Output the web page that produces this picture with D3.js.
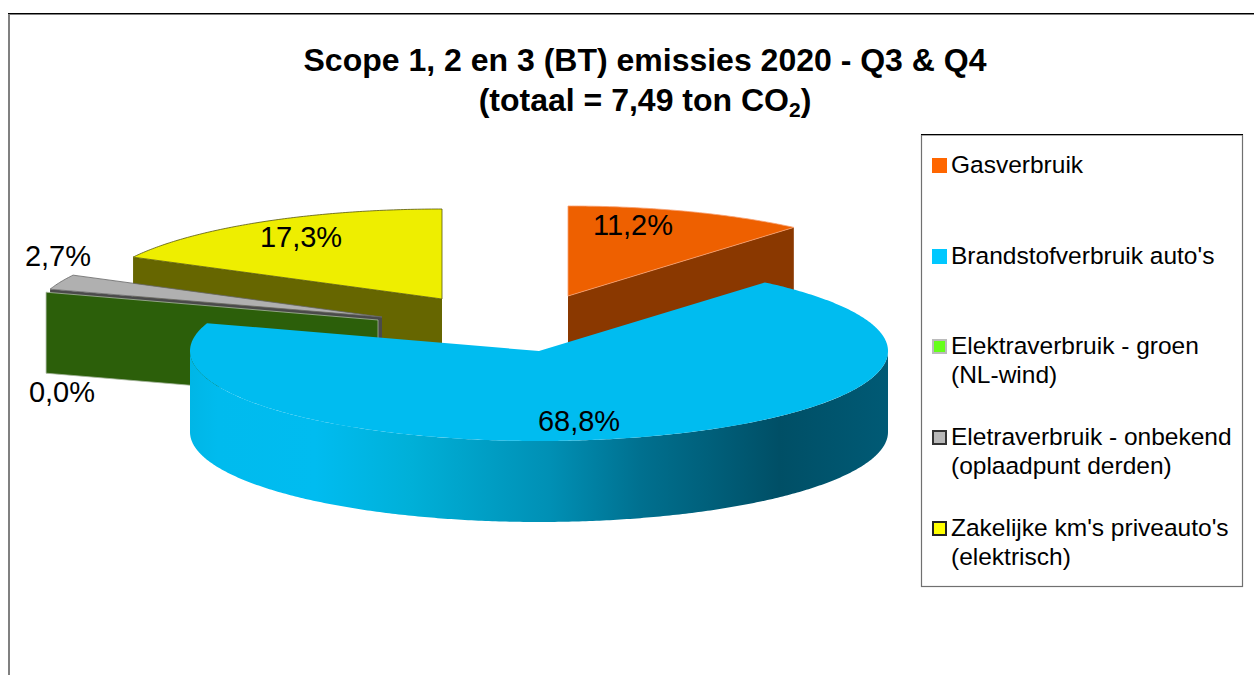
<!DOCTYPE html>
<html>
<head>
<meta charset="utf-8">
<script src="https://cdn.jsdelivr.net/npm/d3@7"></script>
<style>
  html, body { margin: 0; padding: 0; background: #fff; }
  svg { display: block; font-family: "Liberation Sans", Arial, sans-serif; }
</style>
</head>
<body>
<div id="chart"></div>
<script>
// Chart data
const categories = ['Gasverbruik', "Brandstofverbruik auto's", 'Elektraverbruik - groen', 'Eletraverbruik - onbekend', "Zakelijke km's priveauto's"];
const subLabels = ['', '', '(NL-wind)', '(oplaadpunt derden)', '(elektrisch)'];
const shares = [11.2, 68.8, 0.0, 2.7, 17.3];
const valueLabels = ['11,2%', '68,8%', '0,0%', '2,7%', '17,3%'];
const titleLines = ['Scope 1, 2 en 3 (BT) emissies 2020 - Q3 & Q4', '(totaal = 7,49 ton CO'];

// Layout of the exploded pie
const width = 1254, height = 675;
const rx = 349, ry = 90, depth = 81;
const centre = [539, 351];
const explode = [[29, -55], [0, 0], [-161, -31], [-157, -34], [-97, -52]];
const labelPos = [[633, 235], [579, 431], [62, 402], [58, 266], [301, 247]];

const topColors = ['#ee6000', '#00bcf0', '#2c5f0a', '#b0b0b0', '#eeee00'];
const topStroke = ['#f7a070', '#00bcf0', '#a0b090', '#666666', '#55550a'];
const wallColors = ['#8a3800', '#00bcf0', '#2c5f0a', '#4a4a4a', '#666600'];
const swatchFill = ['#ff6600', '#00c8ff', '#66ff1a', '#b8b8b8', '#ffff00'];
const swatchStroke = ['#ff6600', '#00c8ff', '#bbbbbb', '#333333', '#222222'];
const legendY = [173, 264, 354, 445, 536];

const svg = d3.select('#chart').append('svg')
  .attr('width', width)
  .attr('height', height);

const defs = svg.append('defs');
const wallGradient = defs.append('linearGradient')
  .attr('id', 'blueWall')
  .attr('gradientUnits', 'userSpaceOnUse')
  .attr('x1', 190).attr('x2', 887).attr('y1', 0).attr('y2', 0);
[[0, '#00b6e6'], [0.04, '#00bbee'], [0.18, '#00bcf0'], [0.316, '#00b0d8'], [0.515, '#0090b5'], [0.647, '#00708f'], [0.846, '#004f66'], [1, '#005a75']]
  .forEach(function(s) {
    wallGradient.append('stop').attr('offset', s[0]).attr('stop-color', s[1]);
  });

// Chart frame
svg.append('rect').attr('x', 9).attr('y', 14).attr('width', 1300).attr('height', 800)
  .attr('fill', '#fff').attr('stroke', '#808080').attr('stroke-width', 2);
svg.append('line').attr('x1', 8).attr('x2', width).attr('y1', 13.5).attr('y2', 13.5)
  .attr('stroke', '#000').attr('stroke-width', 1.2);

// Title
const title = svg.append('g').attr('font-weight', 'bold').attr('font-size', 32).attr('fill', '#000');
title.append('text').attr('x', 645).attr('y', 71).attr('text-anchor', 'middle').text(titleLines[0]);
const line2 = title.append('text').attr('x', 645).attr('y', 111).attr('text-anchor', 'middle');
line2.append('tspan').text(titleLines[1]);
line2.append('tspan').attr('font-size', 21).attr('dy', 6).text('2');
line2.append('tspan').attr('dy', -6).text(')');

// Pie geometry
const pie = d3.pie().sort(null).value(function(d) { return d; });
const arcs = pie(shares);
const line = d3.line();

function point(c, a, dy) {
  return [c[0] + rx * Math.sin(a), c[1] - ry * Math.cos(a) + (dy || 0)];
}
function rim(c, a0, a1, dy) {
  const n = Math.max(1, Math.ceil((a1 - a0) / 0.01));
  return d3.range(n + 1).map(function(i) {
    return point(c, a0 + (a1 - a0) * i / n, dy);
  });
}
function slicePath(c, a0, a1) {
  return line([c].concat(rim(c, a0, a1))) + 'Z';
}
function sidePath(c, a) {
  const p = point(c, a);
  return line([c, p, [p[0], p[1] + depth], [c[0], c[1] + depth]]) + 'Z';
}
function outerWall(c, a0, a1) {
  const front0 = Math.max(a0, Math.PI / 2), front1 = Math.min(a1, Math.PI * 1.5);
  return line(rim(c, front0, front1).concat(rim(c, front0, front1, depth).reverse())) + 'Z';
}
function sliceCentre(i) {
  return [centre[0] + explode[i][0], centre[1] + explode[i][1]];
}

const pieLayer = svg.append('g');

// Yellow and orange go first, they sit behind the rest
[4, 0].forEach(function(i) {
  const c = sliceCentre(i), d = arcs[i];
  const sideAngle = i === 4 ? d.startAngle : d.endAngle;
  pieLayer.append('path').attr('d', sidePath(c, sideAngle)).attr('fill', wallColors[i]);
  pieLayer.append('path').attr('d', slicePath(c, d.startAngle, d.endAngle))
    .attr('fill', topColors[i]).attr('stroke', topStroke[i]).attr('stroke-width', 0.8);
});

// Grey slice and the empty green slice
const grey = arcs[3], greyC = sliceCentre(3);
pieLayer.append('path').attr('d', sidePath(greyC, grey.startAngle)).attr('fill', wallColors[3]);
pieLayer.append('path').attr('d', slicePath(greyC, grey.startAngle, grey.endAngle))
  .attr('fill', topColors[3]).attr('stroke', topStroke[3]).attr('stroke-width', 0.8);
const green = arcs[2], greenC = sliceCentre(2);
pieLayer.append('path').attr('d', sidePath(greenC, green.startAngle))
  .attr('fill', wallColors[2]).attr('stroke', '#a8b8a0').attr('stroke-width', 0.8);

// Blue slice
const blue = arcs[1], blueC = sliceCentre(1);
pieLayer.append('path').attr('d', outerWall(blueC, blue.startAngle, blue.endAngle))
  .attr('fill', 'url(#blueWall)');
pieLayer.append('path').attr('d', slicePath(blueC, blue.startAngle, blue.endAngle))
  .attr('fill', topColors[1]);

// Value labels
svg.append('g').selectAll('text')
  .data(valueLabels)
  .join('text')
  .attr('x', function(d, i) { return labelPos[i][0]; })
  .attr('y', function(d, i) { return labelPos[i][1]; })
  .attr('text-anchor', 'middle')
  .attr('font-size', 29)
  .attr('fill', '#000')
  .text(function(d) { return d; });

// Legend
svg.append('rect').attr('x', 921.5).attr('y', 135).attr('width', 321).attr('height', 451.5)
  .attr('fill', '#fff').attr('stroke', '#707070').attr('stroke-width', 1.2);
svg.append('line').attr('x1', 921).attr('x2', 1243).attr('y1', 134.5).attr('y2', 134.5).attr('stroke', '#000');

const legend = svg.append('g').selectAll('g')
  .data(categories)
  .join('g');
legend.append('rect')
  .attr('x', 933)
  .attr('y', function(d, i) { return legendY[i] - 14; })
  .attr('width', 13)
  .attr('height', 13)
  .attr('fill', function(d, i) { return swatchFill[i]; })
  .attr('stroke', function(d, i) { return swatchStroke[i]; })
  .attr('stroke-width', 2);
legend.append('text')
  .attr('x', 951)
  .attr('y', function(d, i) { return legendY[i]; })
  .attr('font-size', 24.5)
  .attr('fill', '#000')
  .text(function(d) { return d; });
legend.append('text')
  .attr('x', 951)
  .attr('y', function(d, i) { return legendY[i] + 29; })
  .attr('font-size', 24.5)
  .attr('fill', '#000')
  .text(function(d, i) { return subLabels[i]; });
</script>
</body>
</html>
